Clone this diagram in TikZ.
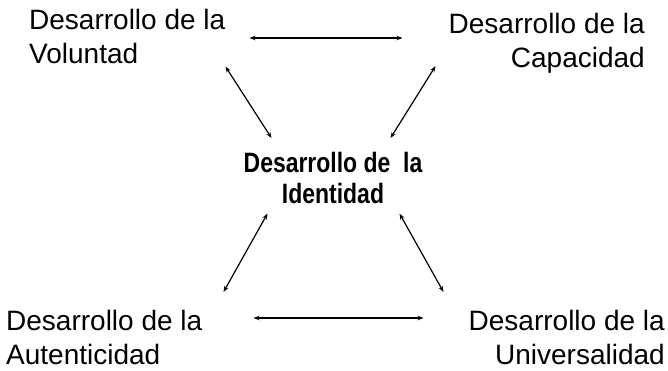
\documentclass[tikz,border=0pt]{standalone}
\usepackage{fontspec}
\setmainfont{Liberation Sans}
\newfontfamily\narrowsans[FakeStretch=0.82]{Liberation Sans}
\usetikzlibrary{arrows.meta,calc}

\tikzset{
    area/.style={inner sep=0pt, align=#1, font=\fontsize{28}{34}\selectfont},
    core/.style={inner sep=0pt, align=center, font=\narrowsans\bfseries\fontsize{28}{31}\selectfont},
    link/.style={{Stealth[length=6pt,width=4.5pt]}-{Stealth[length=6pt,width=4.5pt]}, line width=1.2pt}
}

\begin{document}
\begin{tikzpicture}[x=1pt, y=-1pt]
    \useasboundingbox (0,0) rectangle (668,370);

    % Corners
    \node[area=left, anchor=north west] (vol) at (29,8.6) {Desarrollo de la\\Voluntad};
    \node[area=right, anchor=north east] (cap) at (645,12.6) {Desarrollo de la\\Capacidad};
    \node[area=left, anchor=north west] (aut) at (6,309.6) {Desarrollo de la\\Autenticidad};
    \node[area=right, anchor=north east] (uni) at (665,309.6) {Desarrollo de la\\Universalidad};

    % Centre
    \node[core, anchor=north] (ide) at (333,151.6) {Desarrollo de\ \ la\\Identidad};

    % Arrows
    \draw[link] ($(vol.north east)+(24,29.4)$) -- ($(cap.north west)+(-46,25.4)$);
    \draw[link] ($(aut.north east)+(51,8.4)$) -- ($(uni.north west)+(-45,8.4)$);
    \draw[link] ($(vol.south east)+(0,3)$) -- ($(ide.north west)+(28,-13.6)$);
    \draw[link] ($(cap.south west)+(-13,-7)$) -- ($(ide.north east)+(-32,-13.6)$);
    \draw[link] ($(ide.south west)+(24,10)$) -- ($(aut.north east)+(21,-17.6)$);
    \draw[link] ($(ide.south east)+(-23,10)$) -- ($(uni.north west)+(-25,-17.6)$);
\end{tikzpicture}
\end{document}
